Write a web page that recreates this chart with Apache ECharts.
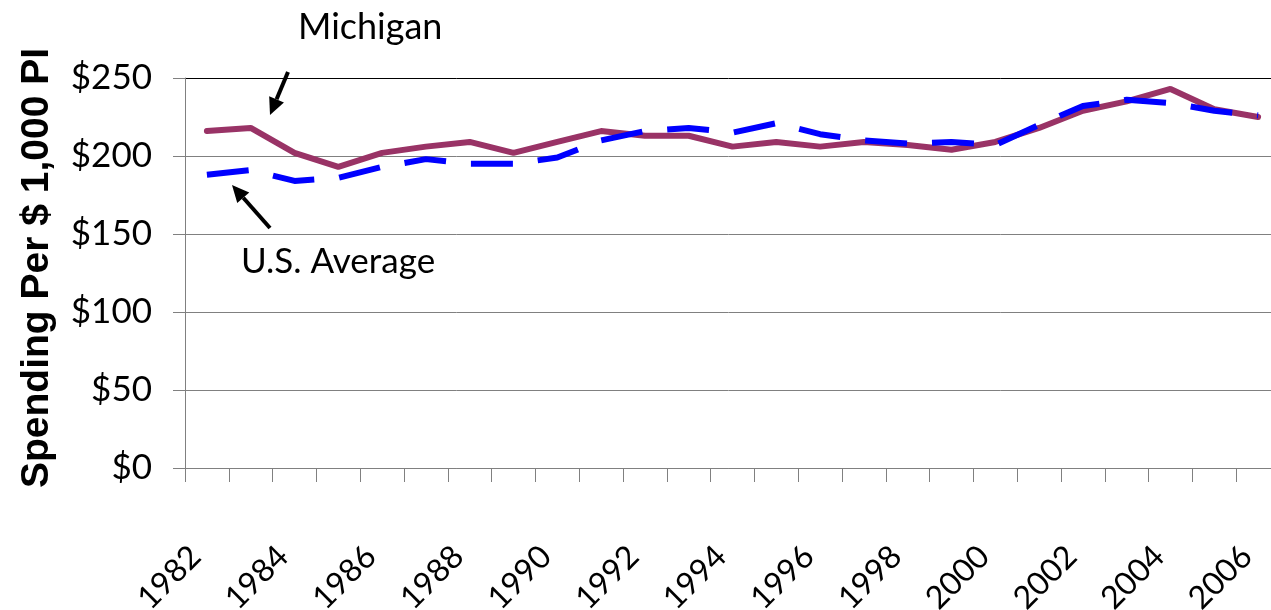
<!DOCTYPE html>
<html>
<head>
<meta charset="utf-8">
<script src="https://cdn.jsdelivr.net/npm/echarts@6/dist/echarts.min.js"></script>
<style>
  html, body { margin: 0; padding: 0; background: #fff; }
  #chart { width: 1271px; height: 610px; }
</style>
</head>
<body>
<div id="chart"></div>
<script>
const years = ['1982', '1983', '1984', '1985', '1986', '1987', '1988', '1989', '1990', '1991',
  '1992', '1993', '1994', '1995', '1996', '1997', '1998', '1999', '2000', '2001',
  '2002', '2003', '2004', '2005', '2006']
const michigan = [216, 218, 202, 193, 202, 206, 209, 202, 209, 216, 213, 213, 206,
  209, 206, 209, 207, 204, 209, 218, 229, 235, 243, 230, 225]
const usAverage = [188, 191, 184, 186, 193, 198, 195, 195, 199, 210, 216, 218, 215,
  221, 214, 210, 208, 209, 207, 220, 232, 236, 234, 229, 226]
const yTicks = [0, 50, 100, 150, 200, 250]

const chart = echarts.init(document.getElementById('chart'))
const labelFont = 'Lato, "Liberation Sans", sans-serif'

// arrow: shaft + filled head, in pixels (annotation only)
const arrow = (x1, y1, x2, y2) => {
  const dx = x2 - x1, dy = y2 - y1
  const len = Math.sqrt(dx * dx + dy * dy)
  const ux = dx / len, uy = dy / len
  const bx = x2 - 17 * ux, by = y2 - 17 * uy
  const px = -uy, py = ux
  return [
    { type: 'line', shape: { x1, y1, x2: bx, y2: by }, style: { stroke: '#000', lineWidth: 4 } },
    {
      type: 'polygon',
      shape: { points: [[x2, y2], [bx + 8 * px, by + 8 * py], [bx - 8 * px, by - 8 * py]] },
      style: { fill: '#000' }
    }
  ]
}

const option = {
  animation: false,
  grid: { left: 185, top: 78, width: 1095, height: 390, outerBoundsMode: 'none', containLabel: false },
  xAxis: {
    type: 'category',
    data: years,
    boundaryGap: true,
    axisLine: { lineStyle: { color: '#808080', width: 1 } },
    axisTick: { show: true, interval: 0, length: 14, lineStyle: { color: '#808080' } },
    axisLabel: {
      interval: 1,
      rotate: 45,
      margin: 72,
      padding: [0, 16, 24, 0],
      color: '#000',
      fontSize: 32,
      fontFamily: labelFont
    }
  },
  yAxis: {
    type: 'value',
    min: yTicks[0],
    max: yTicks[yTicks.length - 1],
    interval: 50,
    name: 'Spending Per $ 1,000 PI',
    nameLocation: 'middle',
    nameGap: 128,
    nameTextStyle: {
      color: '#000',
      fontSize: 39,
      fontWeight: 'bold',
      fontFamily: '"Liberation Sans", Arial, sans-serif',
      padding: [0, 0, 0, 10]
    },
    axisLine: { show: true, lineStyle: { color: '#808080', width: 1 } },
    axisTick: { show: true, length: 12, lineStyle: { color: '#808080' } },
    axisLabel: {
      margin: 33,
      color: '#000',
      fontSize: 35,
      fontFamily: labelFont,
      formatter: v => '$' + v
    },
    splitLine: {
      show: true,
      lineStyle: { color: ['#808080', '#808080', '#808080', '#808080', '#808080', '#000'], width: 1 }
    }
  },
  series: [
    {
      name: 'Michigan',
      type: 'line',
      data: michigan,
      showSymbol: false,
      symbol: 'none',
      lineStyle: { color: '#993366', width: 6, cap: 'round' },
      z: 2
    },
    {
      name: 'U.S. Average',
      type: 'line',
      data: usAverage,
      showSymbol: false,
      symbol: 'none',
      lineStyle: { color: '#0000ff', width: 6, type: [42, 25] },
      z: 3
    }
  ],
  graphic: [
    {
      type: 'text',
      style: { x: 298, y: 27, text: 'Michigan', fill: '#000', font: '36px ' + labelFont, textVerticalAlign: 'middle' }
    },
    {
      type: 'text',
      style: { x: 241, y: 262, text: 'U.S. Average', fill: '#000', font: '35px ' + labelFont, textVerticalAlign: 'middle' }
    },
    ...arrow(288, 72, 270, 115),
    ...arrow(270, 228, 232, 185)
  ]
}

chart.setOption(option)
window.addEventListener('resize', () => chart.resize())
</script>
</body>
</html>
